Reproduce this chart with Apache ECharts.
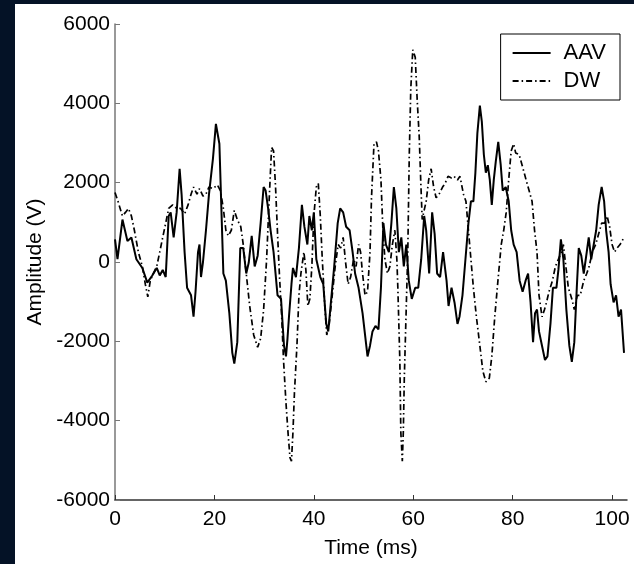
<!DOCTYPE html>
<html>
<head>
<meta charset="utf-8">
<script src="https://cdn.jsdelivr.net/npm/echarts@6/dist/echarts.min.js"></script>
<style>
html,body{margin:0;padding:0;background:#041226;}
#c{width:634px;height:564px;}
</style>
</head>
<body>
<div id="c"></div>
<script>
// ---- data ----
var xTicks = [0, 20, 40, 60, 80, 100];
var yTicks = [-6000, -4000, -2000, 0, 2000, 4000, 6000];

var aavTime = [0,0.5,1.5,2.5,3.3,4.3,5.5,6.5,7.5,8.4,9,9.6,10.2,10.8,11.2,11.8,12.4,13,13.4,14,14.5,15.3,15.8,16.2,16.7,17,17.3,17.7,18.3,18.9,19.7,20.3,21,21.4,21.8,22.3,23,23.6,24,24.6,25.2,25.8,26.4,26.9,27.5,28.1,28.7,29.3,29.9,30.3,30.8,31.3,31.9,32.7,33.4,34,34.4,34.7,35,35.5,35.8,36.4,37,37.6,38.1,38.7,39.1,39.6,40,40.5,41.3,41.9,42.5,42.9,43.5,44.1,44.8,45.3,45.9,46.5,47.2,47.8,48.3,49,49.8,50.8,51.3,51.8,52.4,53,53.5,54,54.5,55.1,55.6,56.1,56.6,57.1,57.6,58.1,58.6,59.1,59.7,60.4,61,61.6,62.2,62.6,63.2,63.8,64.3,64.8,65.4,66,66.7,67.1,67.7,68.3,68.9,69.3,69.9,70.5,71.1,71.6,72.1,72.5,72.9,73.4,73.8,74.2,74.6,75,75.4,75.8,76.2,76.6,77.1,77.6,78,78.6,79.2,79.7,80.2,80.8,81.4,82,82.6,83.1,83.6,84.1,84.5,84.9,85.3,85.9,86.5,87,87.6,88.1,88.8,89.2,89.7,90.2,90.8,91.4,91.9,92.4,92.9,93.3,93.8,94.3,94.9,95.3,95.8,96.3,96.8,97.3,97.9,98.4,98.8,99.3,99.7,100.3,100.8,101.3,101.8,102.4];
var aavValue = [570,70,1070,530,620,70,-150,-520,-340,-150,-340,-200,-380,1160,1250,620,1250,2350,1700,250,-650,-840,-1380,-750,250,440,-380,0,800,1700,2600,3480,2980,1350,-290,-470,-1290,-2290,-2560,-2020,350,350,-290,-20,660,-110,160,980,1890,1800,1350,800,250,-840,-930,-2110,-2380,-1930,-1380,-560,-150,-380,350,1440,890,440,1160,800,1250,70,-380,-560,-1560,-1750,-930,-110,980,1350,1250,890,800,250,-290,-650,-1290,-2380,-2110,-1750,-1610,-1700,-650,980,440,250,980,1890,1350,250,620,-110,440,-470,-930,-650,-650,70,1160,800,-290,1250,710,-290,-380,250,-470,-1110,-650,-1020,-1560,-1380,-840,70,980,1530,1530,2250,3250,3940,3530,2710,2250,2440,2070,1440,2070,2530,3030,2440,1800,1890,1530,800,440,250,-470,-750,-470,-290,-1020,-2020,-1290,-1200,-1750,-2110,-2470,-2380,-1560,-650,-650,-200,570,70,-1200,-2110,-2520,-2020,-650,350,160,-290,250,620,70,440,800,1440,1890,1530,800,250,-560,-1020,-840,-1380,-1200,-2290];

var dwTime = [0,0.6,1.5,2.1,2.7,3.3,3.9,4.7,5.5,6.1,6.6,7.1,7.7,8.4,9,9.6,10.2,10.8,11.6,12.4,13.2,14,14.7,15.3,15.8,16.5,17,17.7,18.3,18.9,19.7,20.6,21.2,21.8,22.3,22.8,23.4,24,24.6,25.3,25.8,26.4,27.1,27.9,28.7,29.3,29.9,30.5,31,31.5,31.9,32.3,32.7,33.1,33.5,33.9,34.4,34.8,35.2,35.5,35.8,36.1,36.6,37,37.4,38,38.4,38.8,39.2,39.6,40,40.5,40.9,41.3,41.7,42.2,42.6,43.1,43.7,44.3,44.9,45.4,45.9,46.4,46.9,47.4,48,48.5,49,49.4,49.8,50.3,50.8,51.3,51.6,52.1,52.6,53,53.5,53.9,54.3,54.8,55.3,55.8,56.3,56.7,56.9,57.3,57.5,57.8,58,58.2,58.6,58.9,59.2,59.5,59.9,60.4,60.8,61.2,61.5,61.8,62.1,62.6,63.1,63.6,64.1,64.6,65.2,65.9,66.4,67,67.7,68.2,68.9,69.4,70.1,70.6,71.1,71.6,72.1,72.7,73.4,74,74.6,75.3,75.8,76.4,77.1,77.7,78.2,78.7,79.2,79.7,80.2,80.6,81.3,81.9,82.7,83.3,83.9,84.4,84.9,85.3,85.9,86.4,86.8,87.3,88,88.6,89.2,89.8,90.2,90.7,91.2,91.9,92.4,93,93.6,94.3,94.9,95.4,96,96.7,97.3,97.9,98.5,99,99.5,100,100.5,101,101.6,102.4];
var dwValue = [1750,1530,1160,1250,1350,1160,800,250,-110,-560,-880,-470,-290,-110,250,620,980,1350,1440,1350,1350,1210,1440,1710,1890,1710,1850,1660,1710,1890,1850,1940,1800,1350,800,660,800,1300,1070,890,440,-290,-1110,-1840,-2150,-1930,-1200,70,1530,2890,2800,1890,710,-380,-1290,-2470,-3560,-4290,-4930,-5020,-4290,-3290,-2110,-840,-290,250,-200,-1110,-930,-110,1160,1890,1980,1160,70,-1110,-1840,-1560,-840,-110,440,350,620,-20,-560,-380,70,-110,440,250,-290,-840,-750,250,1620,2980,3030,2800,2070,800,70,-290,-110,440,800,70,-650,-2470,-4290,-5020,-4290,-2930,-1110,250,2710,4350,5350,5160,4070,3160,2070,1070,1250,1530,2070,2350,1890,1620,1710,1890,1980,2160,2120,2160,2070,2160,1710,1530,800,70,-650,-1380,-2110,-2750,-3020,-2930,-2380,-1380,-380,440,800,1250,2070,2800,2980,2750,2710,2440,2070,1800,1530,800,250,-840,-1380,-1200,-1020,-750,-470,-110,70,250,440,-110,-650,-930,-1200,-840,-840,-470,-290,-110,250,440,710,980,980,1160,890,440,250,350,440,620];

function zip(a, b) { return a.map(function (t, i) { return [t, b[i]]; }); }

var chart = echarts.init(document.getElementById('c'), null, {renderer: 'canvas'});
var font = 'Liberation Sans, Arial, Helvetica, sans-serif';
chart.setOption({
  backgroundColor: '#041226',
  animation: false,
  graphic: [{
    type: 'rect', left: 15, top: 4, z: -10,
    shape: {width: 619, height: 560},
    style: {fill: '#ffffff'}
  }],
  grid: {left: 115, right: 7, top: 24, bottom: 64, containLabel: false},
  legend: {
    data: ['AAV', 'DW'],
    orient: 'vertical',
    right: 14, top: 34,
    backgroundColor: '#ffffff',
    borderColor: '#000000', borderWidth: 1, borderRadius: 0,
    padding: [8, 14, 8, 11],
    itemWidth: 38, itemHeight: 14, itemGap: 6,
    itemStyle: {color: 'rgba(0,0,0,0)', borderColor: 'rgba(0,0,0,0)', borderWidth: 0},
    textStyle: {fontFamily: font, fontSize: 22, color: '#000', padding: [0, 0, 0, 8]}
  },
  xAxis: {
    type: 'value', min: 0, max: 103,
    name: 'Time (ms)', nameLocation: 'middle', nameGap: 38,
    nameTextStyle: {fontFamily: font, fontSize: 21, color: '#000'},
    axisLine: {show: true, onZero: false, lineStyle: {color: '#333', width: 1.5}},
    axisTick: {show: true, inside: true, length: 5, customValues: xTicks, lineStyle: {color: '#333'}},
    axisLabel: {customValues: xTicks, fontFamily: font, fontSize: 21, color: '#000', margin: 9},
    splitLine: {show: false}
  },
  yAxis: {
    type: 'value', min: -6000, max: 6000, interval: 2000,
    name: 'Amplitude (V)', nameLocation: 'middle', nameGap: 69,
    nameTextStyle: {fontFamily: font, fontSize: 21, color: '#000'},
    axisLine: {show: true, onZero: false, lineStyle: {color: '#777', width: 1.5}},
    axisTick: {show: true, inside: true, length: 5, lineStyle: {color: '#777'}},
    axisLabel: {fontFamily: font, fontSize: 21, color: '#000', margin: 5,
      formatter: function (v) { return String(v); }},
    splitLine: {show: false}
  },
  series: [
    {
      name: 'AAV', type: 'line', symbol: 'none', smooth: false,
      data: zip(aavTime, aavValue),
      lineStyle: {color: '#000', width: 2, type: 'solid'},
      itemStyle: {color: '#000'}
    },
    {
      name: 'DW', type: 'line', symbol: 'none', smooth: false,
      data: zip(dwTime, dwValue),
      lineStyle: {color: '#000', width: 1.7, type: [6, 3, 1.5, 3]},
      itemStyle: {color: '#000'}
    }
  ]
});
</script>
</body>
</html>
